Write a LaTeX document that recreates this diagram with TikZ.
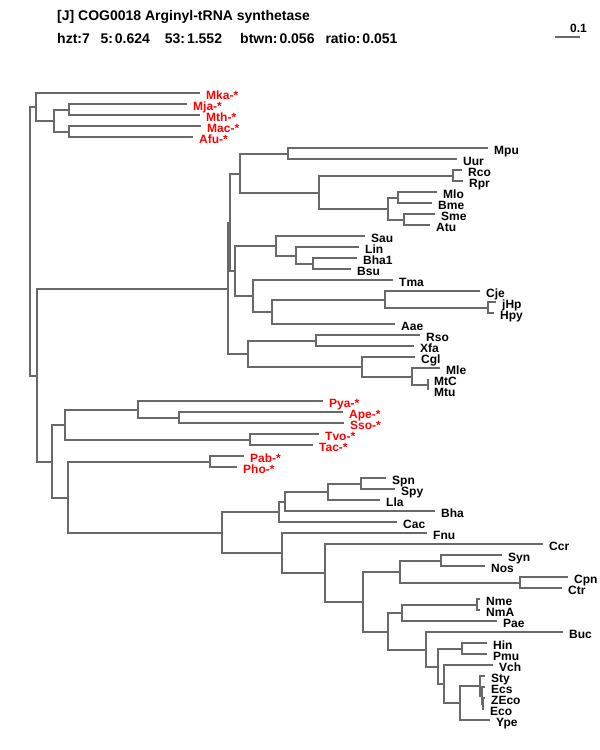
\documentclass[tikz,border=0pt]{standalone}
\usepackage{fontspec}
\setmainfont{Liberation Sans}
\definecolor{treegray}{RGB}{105,105,105}

\begin{document}
\begin{tikzpicture}[
  x=1pt, y=-1pt,
  br/.style={draw=treegray, line width=2pt},
  lf/.style={anchor=west, inner xsep=6pt, inner ysep=0pt,
             text height=13.2pt, text depth=0pt,
             font=\bfseries\fontsize{12}{12}\selectfont},
  ar/.style={lf, text=red},
  hd/.style={anchor=base west, inner sep=0pt,
             font=\bfseries\fontsize{14}{16}\selectfont},
]
\useasboundingbox (0,0) rectangle (600,750);

% heading
\node[hd] (title) at (57,20.3) {[J] COG0018 Arginyl-tRNA synthetase};
\node[hd] (hzt)   at (57,43) {hzt:7};
\node[hd] (nfive) at (100.3,43) {5:\hspace{2pt}0.624};
\node[hd] (nfty)  at (164.6,43) {53:\hspace{2pt}1.552};
\node[hd] (btwn)  at (240,43) {btwn:\hspace{2pt}0.056};
\node[hd] (ratio) at (325.3,43) {ratio:\hspace{2pt}0.051};

% scale bar
\coordinate (sbl) at (555,37);
\coordinate (sbr) at (580,37);
\draw[br] (sbl) -- (sbr);
\node[anchor=base west, inner sep=0pt, font=\bfseries\fontsize{12}{12}\selectfont]
  (sblab) at (570,32.5) {0.1};

% leaves
\node[ar] (Mka) at (200,93) {Mka-*};
\node[ar] (Mja) at (187,104) {Mja-*};
\node[ar] (Mth) at (200,115) {Mth-*};
\node[ar] (Mac) at (201,126) {Mac-*};
\node[ar] (Afu) at (193,137) {Afu-*};
\node[lf] (Mpu) at (488,148) {Mpu};
\node[lf] (Uur) at (457,159) {Uur};
\node[lf] (Rco) at (462,170) {Rco};
\node[lf] (Rpr) at (463,181) {Rpr};
\node[lf] (Mlo) at (437,192) {Mlo};
\node[lf] (Bme) at (432,203) {Bme};
\node[lf] (Sme) at (435,214) {Sme};
\node[lf] (Atu) at (430,225) {Atu};
\node[lf] (Sau) at (365,236) {Sau};
\node[lf] (Lin) at (359,247) {Lin};
\node[lf] (Bha1) at (357,258) {Bha1};
\node[lf] (Bsu) at (351,269) {Bsu};
\node[lf] (Tma) at (393,280) {Tma};
\node[lf] (Cje) at (480,291) {Cje};
\node[lf] (jHp) at (496,302) {jHp};
\node[lf] (Hpy) at (494,313) {Hpy};
\node[lf] (Aae) at (395,324) {Aae};
\node[lf] (Rso) at (420,335) {Rso};
\node[lf] (Xfa) at (414,346) {Xfa};
\node[lf] (Cgl) at (415,357) {Cgl};
\node[lf] (Mle) at (440,368) {Mle};
\node[lf] (MtC) at (428,379) {MtC};
\node[lf] (Mtu) at (428,390) {Mtu};
\node[ar] (Pya) at (323,401) {Pya-*};
\node[ar] (Ape) at (343,412) {Ape-*};
\node[ar] (Sso) at (344,423) {Sso-*};
\node[ar] (Tvo) at (319,434) {Tvo-*};
\node[ar] (Tac) at (313,445) {Tac-*};
\node[ar] (Pab) at (244,456) {Pab-*};
\node[ar] (Pho) at (237,467) {Pho-*};
\node[lf] (Spn) at (386,478) {Spn};
\node[lf] (Spy) at (395,489) {Spy};
\node[lf] (Lla) at (380,500) {Lla};
\node[lf] (Bha) at (435,511) {Bha};
\node[lf] (Cac) at (397,522) {Cac};
\node[lf] (Fnu) at (427,533) {Fnu};
\node[lf] (Ccr) at (543,544) {Ccr};
\node[lf] (Syn) at (502,555) {Syn};
\node[lf] (Nos) at (485,566) {Nos};
\node[lf] (Cpn) at (568,577) {Cpn};
\node[lf] (Ctr) at (562,588) {Ctr};
\node[lf] (Nme) at (480,599) {Nme};
\node[lf] (NmA) at (480,610) {NmA};
\node[lf] (Pae) at (497,621) {Pae};
\node[lf] (Buc) at (563,632) {Buc};
\node[lf] (Hin) at (487,643) {Hin};
\node[lf] (Pmu) at (487,654) {Pmu};
\node[lf] (Vch) at (493,665) {Vch};
\node[lf] (Sty) at (485,676) {Sty};
\node[lf] (Ecs) at (485,687) {Ecs};
\node[lf] (ZEco) at (485,698) {ZEco};
\node[lf] (Eco) at (484,709) {Eco};
\node[lf] (Ype) at (490,720) {Ype};

% archaea, top
\coordinate (nMjaMth) at (69,110);
\draw[br] (nMjaMth) |- (Mja) (nMjaMth) |- (Mth);
\coordinate (nMacAfu) at (69,132);
\draw[br] (nMacAfu) |- (Mac) (nMacAfu) |- (Afu);
\coordinate (nMeth) at (54,121);
\draw[br] (nMeth) |- (nMjaMth) (nMeth) |- (nMacAfu);
\coordinate (nArch) at (36,107);
\draw[br] (nArch) |- (Mka) (nArch) |- (nMeth);

% bacteria, upper block
\coordinate (nRcoRpr) at (453,176);
\draw[br] (nRcoRpr) |- (Rco) (nRcoRpr) |- (Rpr);
\coordinate (nMloBme) at (398,198);
\draw[br] (nMloBme) |- (Mlo) (nMloBme) |- (Bme);
\coordinate (nSmeAtu) at (404,220);
\draw[br] (nSmeAtu) |- (Sme) (nSmeAtu) |- (Atu);
\coordinate (nRhizo) at (388,209);
\draw[br] (nRhizo) |- (nMloBme) (nRhizo) |- (nSmeAtu);
\coordinate (nAlpha) at (319,193);
\draw[br] (nAlpha) |- (nRcoRpr) (nAlpha) |- (nRhizo);
\coordinate (nMpuUur) at (288,154);
\draw[br] (nMpuUur) |- (Mpu) (nMpuUur) |- (Uur);
\coordinate (nMolAlp) at (240,174);
\draw[br] (nMolAlp) |- (nMpuUur) (nMolAlp) |- (nAlpha);
\coordinate (nBhaBsu) at (313,264);
\draw[br] (nBhaBsu) |- (Bha1) (nBhaBsu) |- (Bsu);
\coordinate (nLin) at (296,256);
\draw[br] (nLin) |- (Lin) (nLin) |- (nBhaBsu);
\coordinate (nSau) at (276,246);
\draw[br] (nSau) |- (Sau) (nSau) |- (nLin);
\coordinate (nHp) at (488,308);
\draw[br] (nHp) |- (jHp) (nHp) |- (Hpy);
\coordinate (nCje) at (385,300);
\draw[br] (nCje) |- (Cje) (nCje) |- (nHp);
\coordinate (nAae) at (272,312);
\draw[br] (nAae) |- (nCje) (nAae) |- (Aae);
\coordinate (nTma) at (253,296);
\draw[br] (nTma) |- (Tma) (nTma) |- (nAae);
\coordinate (nFirm) at (235,271);
\draw[br] (nFirm) |- (nSau) (nFirm) |- (nTma);
\coordinate (nUpB) at (230,223);
\draw[br] (nUpB) |- (nMolAlp) (nUpB) |- (nFirm);
\coordinate (nMtb) at (428,385);
\draw[br] (nMtb) |- (MtC) (nMtb) |- (Mtu);
\coordinate (nMle) at (412,377);
\draw[br] (nMle) |- (Mle) (nMle) |- (nMtb);
\coordinate (nCgl) at (362,367);
\draw[br] (nCgl) |- (Cgl) (nCgl) |- (nMle);
\coordinate (nRsoXfa) at (316,341);
\draw[br] (nRsoXfa) |- (Rso) (nRsoXfa) |- (Xfa);
\coordinate (nActino) at (248,354);
\draw[br] (nActino) |- (nRsoXfa) (nActino) |- (nCgl);
\coordinate (nUpA) at (228,289);
\draw[br] (nUpA) |- (nUpB) (nUpA) |- (nActino);

% archaea, lower
\coordinate (nApeSso) at (179,418);
\draw[br] (nApeSso) |- (Ape) (nApeSso) |- (Sso);
\coordinate (nPya) at (138,410);
\draw[br] (nPya) |- (Pya) (nPya) |- (nApeSso);
\coordinate (nTvoTac) at (250,440);
\draw[br] (nTvoTac) |- (Tvo) (nTvoTac) |- (Tac);
\coordinate (nCren) at (65,425);
\draw[br] (nCren) |- (nPya) (nCren) |- (nTvoTac);
\coordinate (nPabPho) at (210,462);
\draw[br] (nPabPho) |- (Pab) (nPabPho) |- (Pho);

% bacteria, lower block
\coordinate (nSpnSpy) at (361,484);
\draw[br] (nSpnSpy) |- (Spn) (nSpnSpy) |- (Spy);
\coordinate (nLla) at (328,492);
\draw[br] (nLla) |- (nSpnSpy) (nLla) |- (Lla);
\coordinate (nBha) at (285,502);
\draw[br] (nBha) |- (nLla) (nBha) |- (Bha);
\coordinate (nCac) at (279,512);
\draw[br] (nCac) |- (nBha) (nCac) |- (Cac);
\coordinate (nSynNos) at (441,561);
\draw[br] (nSynNos) |- (Syn) (nSynNos) |- (Nos);
\coordinate (nCpnCtr) at (520,583);
\draw[br] (nCpnCtr) |- (Cpn) (nCpnCtr) |- (Ctr);
\coordinate (nCyano) at (400,572);
\draw[br] (nCyano) |- (nSynNos) (nCyano) |- (nCpnCtr);
\coordinate (nNme) at (477,605);
\draw[br] (nNme) |- (Nme) (nNme) |- (NmA);
\coordinate (nPae) at (402,613);
\draw[br] (nPae) |- (nNme) (nPae) |- (Pae);
\coordinate (nHinPmu) at (462,649);
\draw[br] (nHinPmu) |- (Hin) (nHinPmu) |- (Pmu);
\coordinate (nZEco) at (483,704);
\draw[br] (nZEco) |- (ZEco) (nZEco) |- (Eco);
\coordinate (nEcs) at (482,696);
\draw[br] (nEcs) |- (Ecs) (nEcs) |- (nZEco);
\coordinate (nSty) at (480,686);
\draw[br] (nSty) |- (Sty) (nSty) |- (nEcs);
\coordinate (nYpe) at (460,703);
\draw[br] (nYpe) |- (nSty) (nYpe) |- (Ype);
\coordinate (nVch) at (444,684);
\draw[br] (nVch) |- (Vch) (nVch) |- (nYpe);
\coordinate (nPast) at (438,667);
\draw[br] (nPast) |- (nHinPmu) (nPast) |- (nVch);
\coordinate (nBuc) at (426,650);
\draw[br] (nBuc) |- (Buc) (nBuc) |- (nPast);
\coordinate (nGamma) at (388,632);
\draw[br] (nGamma) |- (nPae) (nGamma) |- (nBuc);
\coordinate (nProteo) at (363,602);
\draw[br] (nProteo) |- (nCyano) (nProteo) |- (nGamma);
\coordinate (nCcr) at (325,573);
\draw[br] (nCcr) |- (Ccr) (nCcr) |- (nProteo);
\coordinate (nFnu) at (282,553);
\draw[br] (nFnu) |- (Fnu) (nFnu) |- (nCcr);
\coordinate (nLowB) at (222,533);
\draw[br] (nLowB) |- (nCac) (nLowB) |- (nFnu);

% joining the two halves
\coordinate (nPyro) at (68,498);
\draw[br] (nPyro) |- (nPabPho) (nPyro) |- (nLowB);
\coordinate (nLow) at (52,462);
\draw[br] (nLow) |- (nCren) (nLow) |- (nPyro);
\coordinate (nRest) at (37,376);
\draw[br] (nRest) |- (nUpA) (nRest) |- (nLow);
\coordinate (root) at (30,242);
\draw[br] (root) |- (nArch) (root) |- (nRest);
\end{tikzpicture}
\end{document}
